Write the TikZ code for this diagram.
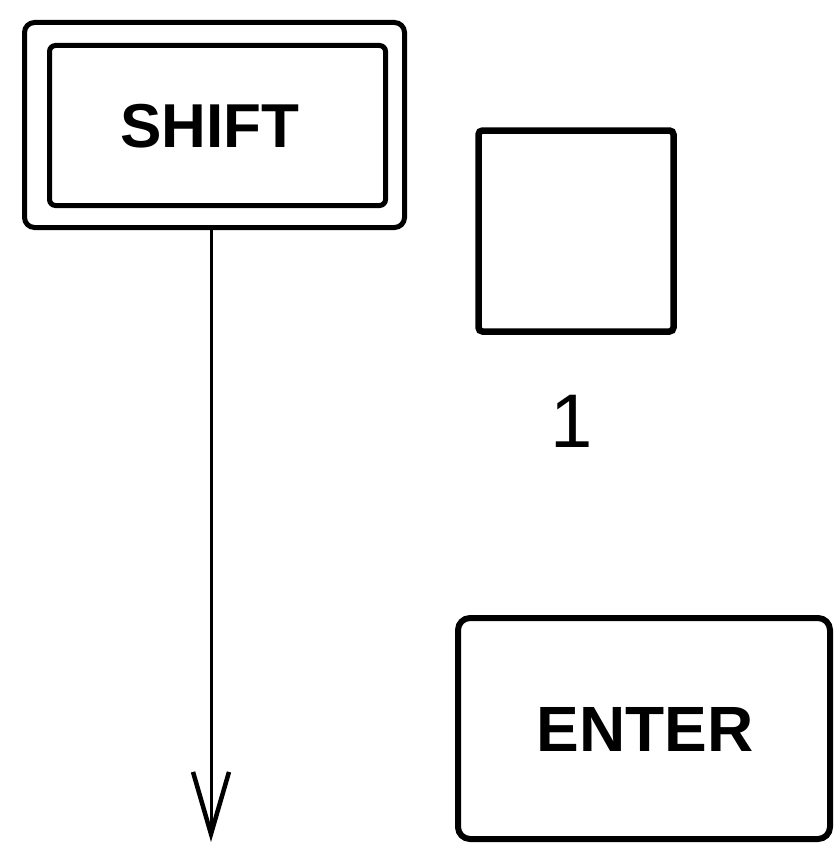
\documentclass[tikz,border=0pt]{standalone}
\usepackage{fontspec}
\setmainfont{Liberation Sans}
\usetikzlibrary{arrows.meta}
\begin{document}
\begin{tikzpicture}[x=1pt,y=-1pt,
  keybox/.style={draw, line width=5pt, inner sep=0pt, outer sep=0pt},
  keytext/.style={font=\fontsize{62}{62}\selectfont\bfseries, inner sep=0pt}]
\useasboundingbox (0,0) rectangle (835,851);
\fill[white] (0,0) rectangle (835,851);
% SHIFT key
\node[keybox, rounded corners=10pt, minimum width=380pt, minimum height=205pt] (shiftout) at (214.5,125) {};
\node[keybox, rounded corners=6pt, minimum width=336pt, minimum height=160pt] (shiftin) at (217.5,125.5) {};
\node[keytext] (shifttxt) at (210,126) {SHIFT};
% blank key
\node[keybox, line width=6.5pt, rounded corners=4pt, minimum width=195pt, minimum height=201pt] (blank) at (576,231) {};
\node[font=\fontsize{76}{76}\selectfont, inner sep=0pt] (one) at (572,421) {1};
% ENTER key
\node[keybox, line width=6pt, rounded corners=12pt, minimum width=372pt, minimum height=221pt] (enter) at (644,728.5) {};
\node[keytext, font=\fontsize{64}{64}\selectfont\bfseries] (entertxt) at (645,729) {ENTER};
% arrow
\coordinate (tip) at (211,842);
\draw[line width=3pt, -{Straight Barb[length=62pt, width=36pt, line width=4.5pt]}] (shiftout.south -| tip) -- (tip);
\end{tikzpicture}
\end{document}
